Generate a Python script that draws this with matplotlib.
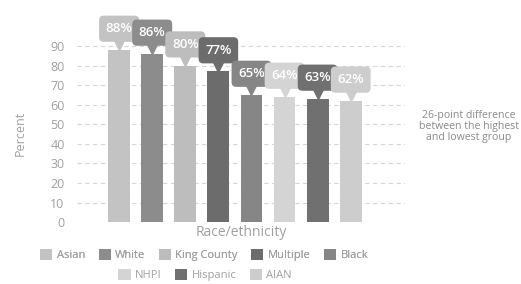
import matplotlib
matplotlib.use("Agg")
import matplotlib.pyplot as plt
from matplotlib.patches import Patch

plt.rcParams["font.family"] = ["Open Sans", "DejaVu Sans"]

# data
GROUPS = ["Asian", "White", "King County", "Multiple", "Black", "NHPI", "Hispanic", "AIAN"]
PERCENT = [88, 86, 80, 77, 65, 64, 63, 62]
Y_TICKS = [0, 10, 20, 30, 40, 50, 60, 70, 80, 90]
NOTE = "26-point difference\nbetween the highest\nand lowest group"

COLORS = ["#c3c3c3", "#8c8c8c", "#bdbdbd", "#6c6c6c", "#868686", "#d4d4d4", "#707070", "#cdcdcd"]
TEXT_COLOR = "#a0a0a0"
GRID_COLOR = "#d6d6d6"

fig = plt.figure(figsize=(5.21, 2.84), dpi=100)
ax = fig.add_axes([0.148, 0.218, 0.630, 0.627])

x = list(range(len(GROUPS)))
bars = ax.bar(x, PERCENT, width=0.66, color=COLORS, zorder=2)

ax.set_xlim(-1.27, 8.65)
ax.set_ylim(0, 91)
ax.set_yticks(Y_TICKS)
ax.set_xticks([])
ax.tick_params(axis="y", length=0, pad=9, labelsize=9, labelcolor=TEXT_COLOR)
for s in ax.spines.values():
    s.set_visible(False)
ax.yaxis.grid(True, color=GRID_COLOR, linestyle=(0, (4, 3)), linewidth=0.8, zorder=0)
ax.set_axisbelow(True)

ax.set_ylabel("Percent", color=TEXT_COLOR, fontsize=9, labelpad=17)
ax.set_xlabel("Race/ethnicity", color=TEXT_COLOR, fontsize=10, labelpad=2)

# callout labels above bars
for xi, v, c in zip(x, PERCENT, COLORS):
    ax.plot(xi, v + 3.0, marker="v", markersize=8, color=c, clip_on=False, zorder=3)
    ax.text(xi, v + 10.8, f"{v}%", ha="center", va="center", fontsize=9.5,
            fontweight="semibold", color="white", clip_on=False, zorder=4,
            bbox=dict(boxstyle="round,pad=0.5,rounding_size=0.35", fc=c, ec="none"))

fig.text(0.900, 0.555, NOTE, ha="center", va="center", fontsize=7.6,
         color="#8a8a8a", linespacing=1.0)

handles = [Patch(facecolor=c, edgecolor="none") for c in COLORS]
leg_kw = dict(frameon=False, fontsize=8, handlelength=1.1, handleheight=1.1,
              handletextpad=0.4, columnspacing=1.2, labelcolor=TEXT_COLOR,
              borderaxespad=0, borderpad=0)
leg1 = fig.legend(handles[:5], GROUPS[:5], ncol=5, loc="center",
                  bbox_to_anchor=(0.392, 0.102), **leg_kw)
fig.add_artist(leg1)
fig.legend(handles[5:], GROUPS[5:], ncol=3, loc="center",
           bbox_to_anchor=(0.394, 0.032), **leg_kw)

fig.savefig("out.png", dpi=100)
